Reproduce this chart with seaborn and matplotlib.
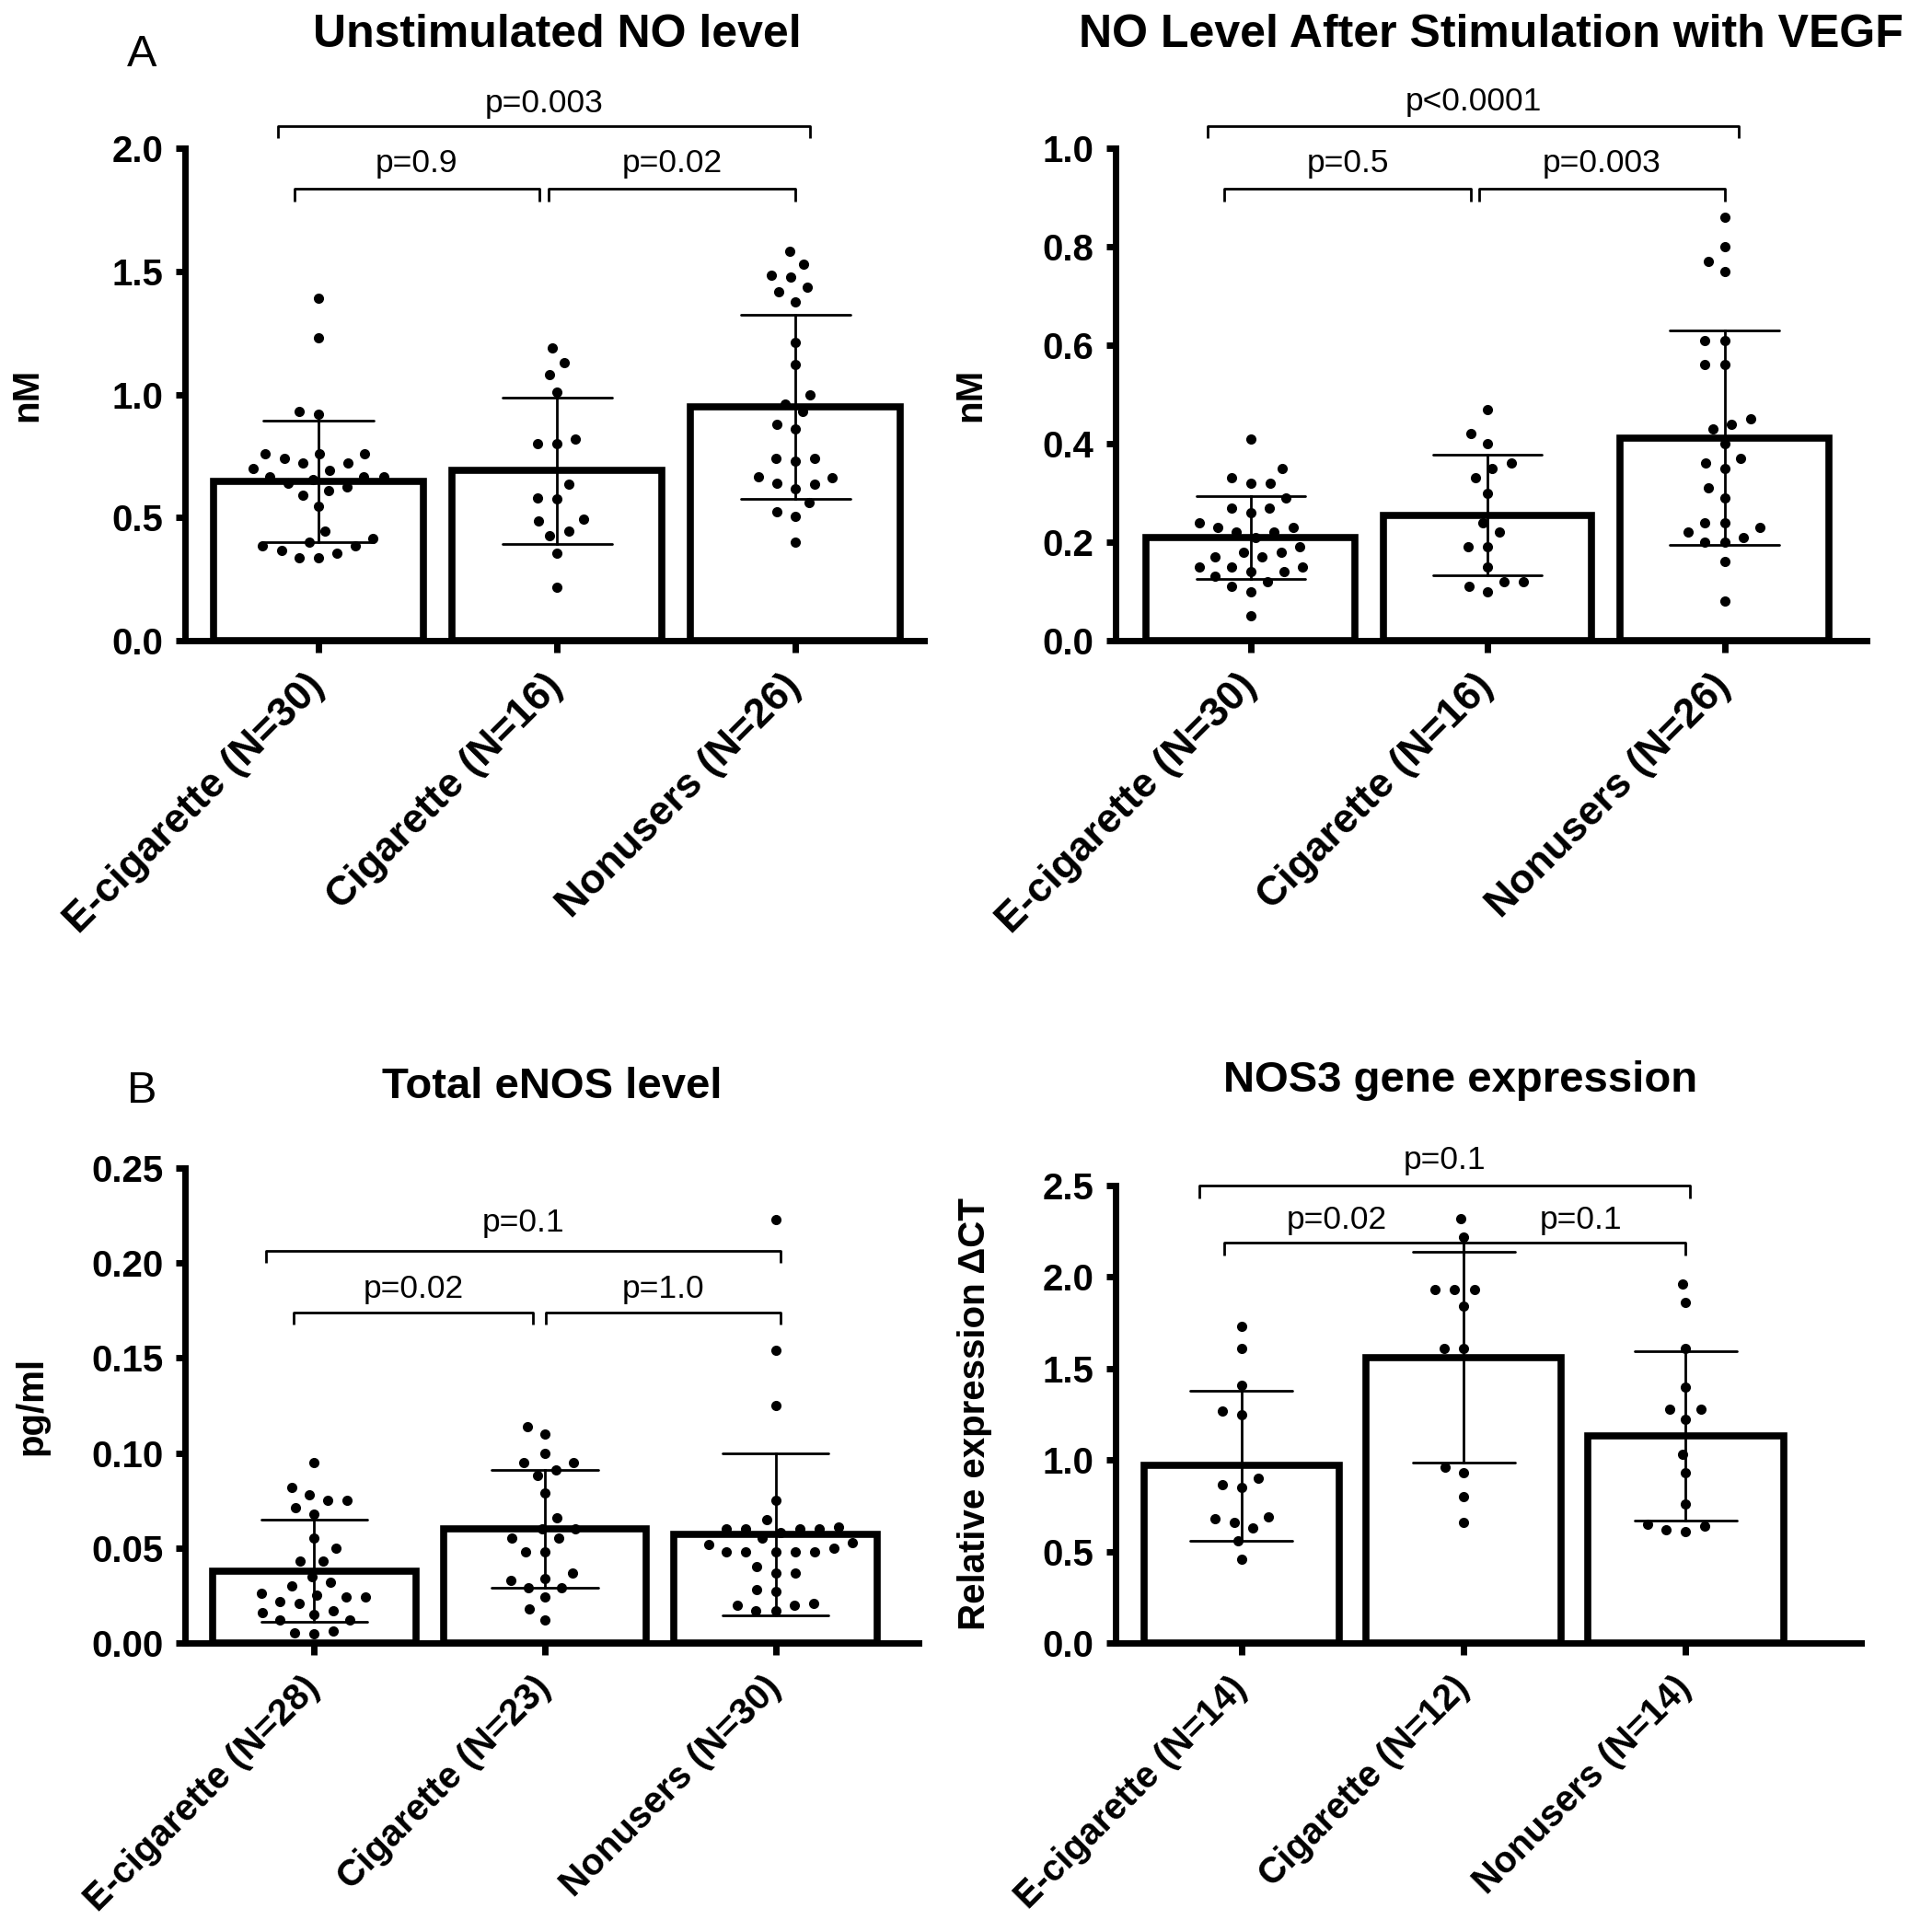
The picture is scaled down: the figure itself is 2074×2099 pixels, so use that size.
import numpy as np
import pandas as pd
import matplotlib
matplotlib.use("Agg")
import matplotlib.pyplot as plt
import seaborn as sns

# ---------------- data ----------------
labels_a = ["E-cigarette (N=30)", "Cigarette (N=16)", "Nonusers (N=26)"]
labels_b1 = ["E-cigarette (N=28)", "Cigarette (N=23)", "Nonusers (N=30)"]
labels_b2 = ["E-cigarette (N=14)", "Cigarette (N=12)", "Nonusers (N=14)"]

no_unstim_ecig = [1.39, 1.23, 0.93, 0.92, 0.76, 0.76, 0.76, 0.74, 0.72, 0.72, 0.70, 0.69, 0.665, 0.665, 0.665,
                  0.655, 0.64, 0.625, 0.61, 0.59, 0.545, 0.445, 0.415, 0.40, 0.385, 0.385, 0.365, 0.355, 0.335, 0.335]
no_unstim_cig = [1.19, 1.13, 1.08, 1.01, 0.82, 0.80, 0.80, 0.635, 0.58, 0.575, 0.495, 0.485, 0.445, 0.425, 0.355, 0.215]
no_unstim_non = [1.58, 1.53, 1.485, 1.475, 1.435, 1.415, 1.375, 1.21, 1.12, 1.00, 0.96, 0.93, 0.88, 0.86, 0.74,
                 0.74, 0.73, 0.665, 0.66, 0.64, 0.635, 0.615, 0.56, 0.525, 0.505, 0.40]

vegf_ecig = [0.41, 0.35, 0.33, 0.32, 0.32, 0.29, 0.27, 0.27, 0.26, 0.24, 0.23, 0.23, 0.22, 0.22, 0.21,
             0.19, 0.18, 0.18, 0.17, 0.17, 0.15, 0.15, 0.15, 0.14, 0.14, 0.13, 0.12, 0.11, 0.10, 0.05]
vegf_cig = [0.47, 0.42, 0.40, 0.36, 0.35, 0.33, 0.30, 0.24, 0.22, 0.19, 0.19, 0.15, 0.12, 0.12, 0.11, 0.10]
vegf_non = [0.86, 0.80, 0.77, 0.75, 0.61, 0.61, 0.56, 0.56, 0.45, 0.44, 0.43, 0.40, 0.37, 0.36, 0.35,
            0.31, 0.29, 0.24, 0.24, 0.23, 0.22, 0.21, 0.20, 0.20, 0.16, 0.08]

enos_ecig = [0.095, 0.082, 0.078, 0.075, 0.075, 0.071, 0.068, 0.055, 0.050, 0.043, 0.043, 0.035, 0.032, 0.030,
             0.026, 0.024, 0.024, 0.025, 0.022, 0.021, 0.017, 0.016, 0.015, 0.012, 0.012, 0.0065, 0.0055, 0.005]
enos_cig = [0.114, 0.110, 0.100, 0.095, 0.095, 0.091, 0.088, 0.079, 0.066, 0.060, 0.060, 0.055, 0.055, 0.048,
            0.048, 0.037, 0.034, 0.033, 0.029, 0.029, 0.024, 0.018, 0.012]
enos_non = [0.223, 0.154, 0.125, 0.075, 0.065, 0.060, 0.060, 0.060, 0.060, 0.061, 0.058, 0.055, 0.053, 0.052,
            0.050, 0.048, 0.048, 0.048, 0.048, 0.048, 0.040, 0.037, 0.037, 0.028, 0.027, 0.021, 0.020, 0.020,
            0.017, 0.017]

nos3_ecig = [1.73, 1.61, 1.41, 1.27, 1.245, 0.90, 0.865, 0.85, 0.69, 0.68, 0.66, 0.63, 0.56, 0.46]
nos3_cig = [2.32, 2.22, 1.93, 1.93, 1.93, 1.84, 1.61, 1.61, 0.96, 0.93, 0.80, 0.66]
nos3_non = [1.96, 1.86, 1.61, 1.40, 1.28, 1.28, 1.22, 1.03, 0.93, 0.76, 0.65, 0.64, 0.62, 0.61]

# ---------------- style ----------------
sns.set_theme(style="ticks")
plt.rcParams["font.family"] = ["Liberation Sans", "DejaVu Sans"]
plt.rcParams["font.weight"] = "bold"
plt.rcParams["axes.labelweight"] = "bold"
for k in ["text.color", "axes.labelcolor", "xtick.color", "ytick.color", "axes.edgecolor"]:
    plt.rcParams[k] = "black"

W, H = 2074, 2099
fig = plt.figure(figsize=(W / 100, H / 100), dpi=100)


def add_ax(x0, y0, x1, y1):
    return fig.add_axes([x0 / W, 1 - y1 / H, (x1 - x0) / W, (y1 - y0) / H])


def panel(ax, groups, labels, ylim, yticks, fmt, ylabel, xlim, label_x, xfs):
    df = pd.DataFrame({
        "group": np.repeat(labels, [len(g) for g in groups]),
        "value": np.concatenate(groups),
    })
    sns.barplot(data=df, x="group", y="value", order=labels, errorbar="sd", capsize=0.46,
                width=0.88, color="white", saturation=1, edgecolor="black", linewidth=5.5,
                err_kws={"color": "black", "linewidth": 2.0, "zorder": 4}, ax=ax)
    # transparent wide edge widens the swarm spacing like the original column scatter
    sns.swarmplot(data=df, x="group", y="value", order=labels, color="black", size=8.0,
                  linewidth=6.5, edgecolor=(0, 0, 0, 0), ax=ax, zorder=3)
    ax.set_ylim(*ylim)
    ax.set_xlim(*xlim)
    ax.set_yticks(yticks)
    ax.set_yticklabels([fmt.format(t) for t in yticks], fontsize=29, fontweight="bold")
    ax.set_xticks(range(3))
    ax.set_xticklabels(labels, rotation=45, ha="right", va="center", rotation_mode="anchor",
                       fontsize=xfs, fontweight="bold")
    ax.tick_params(axis="y", direction="out", length=7, width=5, pad=10)
    ax.tick_params(axis="x", direction="out", length=9, width=5, pad=22)
    ax.set_xlabel("")
    ax.set_ylabel(ylabel, fontsize=29, fontweight="bold")
    ax.yaxis.set_label_coords(label_x, 0.5)
    for s in ["top", "right"]:
        ax.spines[s].set_visible(False)
    for s in ["left", "bottom"]:
        ax.spines[s].set_linewidth(5)
    ax.set_facecolor("white")


def bracket(ax, x1, x2, y, h, text=None, ty=None, tx=None):
    ax.plot([x1, x1, x2, x2], [y - h, y, y, y - h], color="black", lw=2.0, clip_on=False,
            solid_capstyle="butt", zorder=5)
    if text is not None:
        ax.text((x1 + x2) / 2 if tx is None else tx, ty, text, ha="center", va="center",
                fontsize=25.5, fontweight="normal", clip_on=False)


# Panel A left
ax1 = add_ax(201, 161, 1004, 696)
panel(ax1, [no_unstim_ecig, no_unstim_cig, no_unstim_non], labels_a, (0, 2.0),
      [0, 0.5, 1.0, 1.5, 2.0], "{:.1f}", "nM", (-0.56, 2.54), -0.19, 32)
bracket(ax1, -0.17, 2.06, 2.09, 0.05, "p=0.003", 2.18)
bracket(ax1, -0.10, 0.925, 1.835, 0.05, "p=0.9", 1.94)
bracket(ax1, 0.965, 2.0, 1.835, 0.05, "p=0.02", 1.94)

# Panel A right
ax2 = add_ax(1212, 161, 2028, 696)
panel(ax2, [vegf_ecig, vegf_cig, vegf_non], labels_a, (0, 1.0),
      [0, 0.2, 0.4, 0.6, 0.8, 1.0], "{:.1f}", "nM", (-0.57, 2.6), -0.17, 32)
bracket(ax2, -0.18, 2.06, 1.045, 0.025, "p<0.0001", 1.095)
bracket(ax2, -0.11, 0.93, 0.9175, 0.025, "p=0.5", 0.97)
bracket(ax2, 0.965, 2.0, 0.9175, 0.025, "p=0.003", 0.97)

# Panel B left
ax3 = add_ax(201, 1269, 998, 1785)
panel(ax3, [enos_ecig, enos_cig, enos_non], labels_b1, (0, 0.25),
      [0, 0.05, 0.10, 0.15, 0.20, 0.25], "{:.2f}", "pg/ml", (-0.56, 2.62), -0.185, 29)
bracket(ax3, -0.21, 2.02, 0.2065, 0.0065, "p=0.1", 0.221)
bracket(ax3, -0.09, 0.95, 0.174, 0.0065, "p=0.02", 0.1865)
bracket(ax3, 1.005, 2.02, 0.174, 0.0065, "p=1.0", 0.1865)

# Panel B right
ax4 = add_ax(1212, 1288, 2022, 1785)
panel(ax4, [nos3_ecig, nos3_cig, nos3_non], labels_b2, (0, 2.5),
      [0, 0.5, 1.0, 1.5, 2.0, 2.5], "{:.1f}", "Relative expression \u0394CT", (-0.567, 2.79), -0.165, 28.5)
bracket(ax4, -0.19, 2.02, 2.5, 0.07, "p=0.1", 2.64)
bracket(ax4, -0.08, 1.0, 2.19, 0.07, "p=0.02", 2.31, tx=0.43)
bracket(ax4, 1.0, 2.0, 2.19, 0.07, "p=0.1", 2.31, tx=1.53)

# Titles and panel letters
fig.text(605 / W, 1 - 38 / H, "Unstimulated NO level", ha="center", va="center", fontsize=36, fontweight="bold")
fig.text(1620 / W, 1 - 38 / H, "NO Level After Stimulation with VEGF", ha="center", va="center", fontsize=36,
         fontweight="bold")
fig.text(600 / W, 1 - 1181 / H, "Total eNOS level", ha="center", va="center", fontsize=34, fontweight="bold")
fig.text(1587 / W, 1 - 1174 / H, "NOS3 gene expression", ha="center", va="center", fontsize=34, fontweight="bold")
fig.text(154 / W, 1 - 60 / H, "A", ha="center", va="center", fontsize=35, fontweight="normal")
fig.text(154 / W, 1 - 1185 / H, "B", ha="center", va="center", fontsize=35, fontweight="normal")

fig.savefig("out.png", dpi=100, facecolor="white")
